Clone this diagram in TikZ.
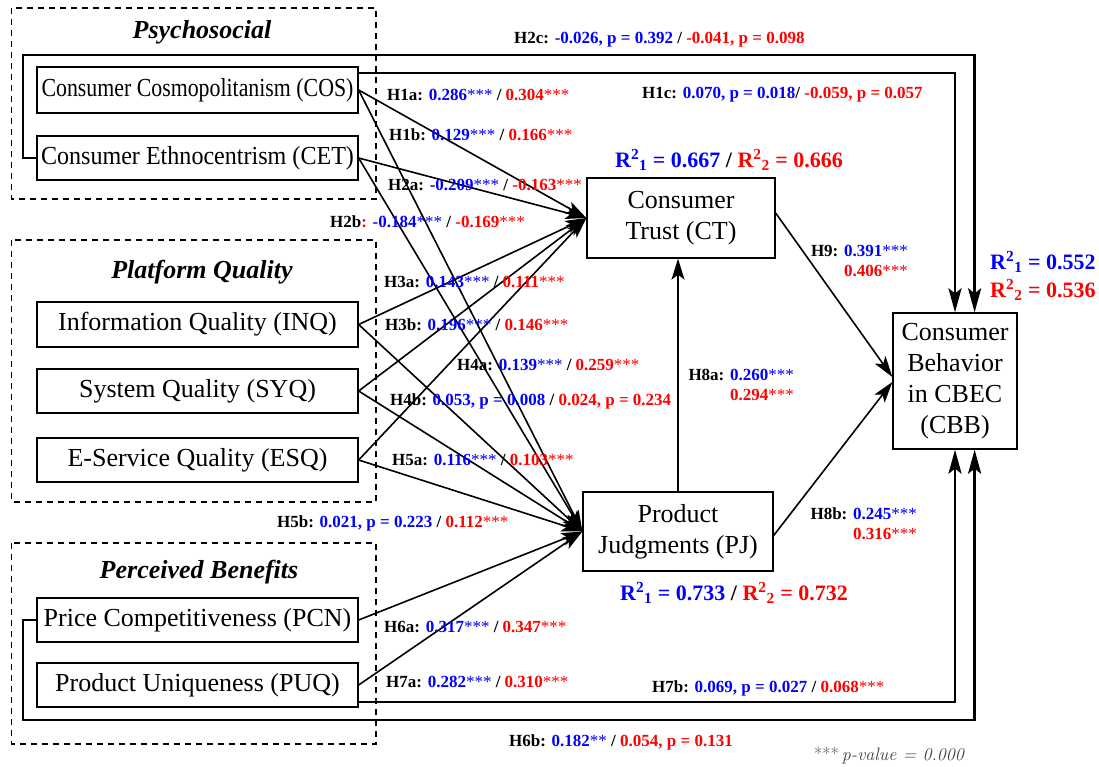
\documentclass[tikz,border=0pt]{standalone}
\usepackage{fontspec}
\usepackage{graphicx}
\setmainfont{Liberation Serif}
\usetikzlibrary{arrows.meta}
\newcommand{\bl}[1]{\textcolor{blue}{#1}}
\newcommand{\rd}[1]{\textcolor{red}{#1}}
\newcommand{\sgst}{\textmd{***}}
\newcommand{\Rsq}[1]{R\textsuperscript{2}\textsubscript{#1}}
\begin{document}
\begin{tikzpicture}[x=1pt,y=-1pt,
  srcbox/.style={draw, line width=1.3pt, minimum width=321pt, minimum height=44pt, inner sep=0pt, font=\fontsize{26}{30}\selectfont},
  bigbox/.style={draw, line width=1.3pt, align=center, inner sep=0pt, font=\fontsize{26}{31}\selectfont},
  grp/.style={draw, dash pattern=on 6pt off 5pt, line width=1.3pt},
  ttl/.style={inner sep=0pt, font=\fontsize{26}{30}\selectfont\bfseries\itshape},
  lab/.style={anchor=west, inner sep=0pt, font=\fontsize{17}{20}\selectfont\bfseries},
  rsq/.style={inner sep=0pt, font=\fontsize{22}{26}\selectfont\bfseries},
  conn/.style={line width=1.6pt, -{Stealth[length=21pt,width=13pt,inset=5pt]}},
  fb/.style={line width=2.8pt, -{Stealth[length=24pt,width=13pt,inset=5pt]}}
]
\useasboundingbox (0,0) rectangle (1099,766);

% group boxes
\draw[grp] (11.6,8) rectangle (376,199);
\draw[grp] (11.6,240) rectangle (376,502);
\draw[grp] (11.6,543) rectangle (376,744);
\node[ttl] (tpsy) at (202,32) {Psychosocial};
\node[ttl] (tplat) at (202,272) {Platform Quality};
\node[ttl] (tper) at (199,572) {Perceived Benefits};

% source boxes
\node[srcbox, minimum height=46pt] (cos) at (197.5,90) {\scalebox{0.84}[1]{Consumer Cosmopolitanism (COS)}};
\node[srcbox] (cet) at (197.5,158) {\scalebox{0.926}[1]{Consumer Ethnocentrism (CET)}};
\node[srcbox, minimum height=45pt] (inq) at (197.5,324.5) {Information Quality (INQ)};
\node[srcbox] (syq) at (197.5,391) {System Quality (SYQ)};
\node[srcbox] (esq) at (197.5,460) {E-Service Quality (ESQ)};
\node[srcbox] (pcn) at (197.5,620) {Price Competitiveness (PCN)};
\node[srcbox] (puq) at (197.5,685) {Product Uniqueness (PUQ)};

% mediators and outcome
\node[bigbox, minimum width=188pt, minimum height=80pt] (ct) at (681,218) {Consumer\\Trust (CT)};
\node[bigbox, minimum width=190pt, minimum height=79pt] (pj) at (678,531.5) {Product\\Judgments (PJ)};
\node[bigbox, minimum width=124pt, minimum height=136pt] (cbb) at (955,381) {Consumer\\Behavior\\in CBEC\\(CBB)};

% connectors to CT and PJ
\foreach \s in {cos,cet,inq,syq,esq} {
  \draw[conn] (\s.east) -- (ct.west);
  \draw[conn] (\s.east) -- (pj.west);
}
\draw[conn] (pcn.east) -- (pj.west);
\draw[conn] (puq.east) -- (pj.west);
\draw[conn] (pj.north) -- (pj.north |- ct.south);
\draw[conn] ([yshift=5pt]ct.east) -- ([yshift=4pt]cbb.west);
\draw[conn] ([yshift=-4pt]pj.east) -- ([yshift=-1pt]cbb.west);

% direct effect loops
\draw[fb] (cet.west) -| (23,55) -| ([xshift=19.6pt]cbb.north);
\draw[fb] ([yshift=17pt]cos.east) -| (cbb.north);
\draw[fb] (pcn.west) -| (23,720) -| ([xshift=19.6pt]cbb.south);
\draw[fb] ([yshift=-17pt]puq.east) -| (cbb.south);

% path labels
\node[lab] (h2c) at (514,40) {H2c: \bl{-0.026, p = 0.392} / \rd{-0.041, p = 0.098}};
\node[lab] (h1c) at (642,95) {H1c: \bl{0.070, p = 0.018}/ \rd{-0.059, p = 0.057}};
\node[lab] (h1a) at (387,95) {H1a: \bl{0.286\sgst} / \rd{0.304\sgst}};
\node[lab] (h1b) at (389,135) {H1b: \bl{0.129\sgst} / \rd{0.166\sgst}};
\node[lab] (h2a) at (388,185) {H2a: \bl{-0.209\sgst} / \rd{-0.163\sgst}};
\node[lab] (h2b) at (330,222) {H2b\rd{:} \bl{-0.184\sgst} / \rd{-0.169\sgst}};
\node[lab] (h3a) at (384,282) {H3a: \bl{0.143\sgst} / \rd{0.111\sgst}};
\node[lab] (h3b) at (385,325) {H3b: \bl{0.196\sgst} / \rd{0.146\sgst}};
\node[lab] (h4a) at (457,365) {H4a: \bl{0.139\sgst} / \rd{0.259\sgst}};
\node[lab] (h4b) at (390,401) {H4b: \bl{0.053, p = 0.008} / \rd{0.024, p = 0.234}};
\node[lab] (h5a) at (392,460) {H5a: \bl{0.116\sgst} / \rd{0.103\sgst}};
\node[lab] (h5b) at (277,523) {H5b: \bl{0.021, p = 0.223} / \rd{0.112\sgst}};
\node[lab] (h6a) at (384,627) {H6a: \bl{0.317\sgst} / \rd{0.347\sgst}};
\node[lab] (h7a) at (386,682) {H7a: \bl{0.282\sgst} / \rd{0.310\sgst}};
\node[lab] (h7b) at (652,688) {H7b: \bl{0.069, p = 0.027} / \rd{0.068\sgst}};
\node[lab] (h6b) at (509,742) {H6b: \bl{0.182\textmd{**}} / \rd{0.054, p = 0.131}};
\node[lab, anchor=east, align=right] (h9) at (908,261) {H9: \bl{0.391\sgst}\\\rd{0.406\sgst}};
\node[lab, anchor=east, align=right] (h8a) at (794,385) {H8a: \bl{0.260\sgst}\\\rd{0.294\sgst}};
\node[lab, anchor=east, align=right] (h8b) at (917,524) {H8b: \bl{0.245\sgst}\\\rd{0.316\sgst}};

% R-squared
\node[rsq] (r2ct) at (729,160) {\bl{\Rsq{1} = 0.667} / \rd{\Rsq{2} = 0.666}};
\node[rsq] (r2pj) at (734,593) {\bl{\Rsq{1} = 0.733} / \rd{\Rsq{2} = 0.732}};
\node[rsq, anchor=west] (r2a) at (990,262) {\bl{\Rsq{1} = 0.552}};
\node[rsq, anchor=west] (r2b) at (990,290) {\rd{\Rsq{2} = 0.536}};

% note
\node[anchor=west, inner sep=0pt, text=black!75, font=\fontfamily{lmr}\fontsize{18}{20}\selectfont] (note) at (814,755) {***\,\textit{p-value = 0.000}};
\end{tikzpicture}
\end{document}
